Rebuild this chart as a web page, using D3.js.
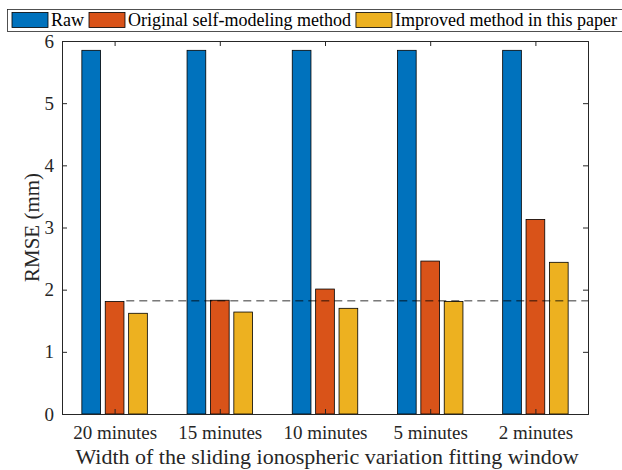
<!DOCTYPE html>
<html>
<head>
<meta charset="utf-8">
<script src="https://cdn.jsdelivr.net/npm/d3@7"></script>
<style>
  body { margin: 0; background: #fff; }
  svg { display: block; font-family: "Liberation Serif", "Times New Roman", serif; }
</style>
</head>
<body>
<div id="chart"></div>
<script>
// chart data
const categories = ["20 minutes", "15 minutes", "10 minutes", "5 minutes", "2 minutes"];
const seriesNames = ["Raw", "Original self-modeling method", "Improved method in this paper"];
const rawValues = [5.85, 5.85, 5.85, 5.85, 5.85];
const originalValues = [1.81, 1.83, 2.01, 2.46, 3.13];
const improvedValues = [1.62, 1.64, 1.70, 1.81, 2.44];
const referenceLevel = 1.82;
const yTicks = [0, 1, 2, 3, 4, 5, 6];

const colors = ["#0072BD", "#D95319", "#EDB120"];
const series = [rawValues, originalValues, improvedValues];

const width = 622, height = 470;
const margin = {top: 41, right: 34, bottom: 56, left: 62};
const plotW = width - margin.left - margin.right;
const plotH = height - margin.top - margin.bottom;
const serif = "Liberation Serif, Times New Roman, serif";

const svg = d3.select("#chart").append("svg")
    .attr("width", width)
    .attr("height", height);

const g = svg.append("g")
    .attr("transform", "translate(" + margin.left + "," + margin.top + ")");

// x is a linear scale like matlab's bar positions 1..n
const x = d3.scaleLinear()
    .domain([0.5, categories.length + 0.5])
    .range([0, plotW]);
const y = d3.scaleLinear()
    .domain([0, 6])
    .range([plotH, 0]);

const groupWidth = 0.667;
const step = groupWidth / series.length;
const barW = step * 0.8;

series.forEach(function (vals, s) {
    g.selectAll("rect.s" + s)
        .data(vals)
        .enter().append("rect")
        .attr("class", "s" + s)
        .attr("x", function (d, i) { return x(i + 1 + (s - 1) * step - barW / 2); })
        .attr("width", x(barW) - x(0))
        .attr("y", function (d) { return y(d); })
        .attr("height", function (d) { return y(0) - y(d); })
        .attr("fill", colors[s])
        .attr("stroke", "#000")
        .attr("stroke-width", 0.8);
});

// dashed reference line from the first orange bar
g.append("line")
    .attr("x1", x(1 + step * 0.5))
    .attr("x2", plotW)
    .attr("y1", y(referenceLevel))
    .attr("y2", y(referenceLevel))
    .attr("stroke", "#000")
    .attr("stroke-width", 0.8)
    .attr("stroke-dasharray", "8,5");

// axes, ticks inward on all four sides
const tickLen = 5;
const axisColor = "#262626";
const xTickVals = d3.range(1, categories.length + 1);

const xAxis = g.append("g")
    .attr("transform", "translate(0," + plotH + ")")
    .call(d3.axisBottom(x).tickValues(xTickVals)
        .tickSize(-tickLen).tickPadding(12)
        .tickFormat(function (d) { return categories[d - 1]; }));
const xTop = g.append("g")
    .call(d3.axisTop(x).tickValues(xTickVals).tickSize(-tickLen).tickFormat(""));
const yAxis = g.append("g")
    .call(d3.axisLeft(y).tickValues(yTicks).tickSize(-tickLen).tickPadding(8)
        .tickFormat(d3.format("d")));
const yRight = g.append("g")
    .attr("transform", "translate(" + plotW + ",0)")
    .call(d3.axisRight(y).tickValues(yTicks).tickSize(-tickLen).tickFormat(""));

[xAxis, xTop, yAxis, yRight].forEach(function (a) {
    a.attr("font-family", serif).attr("font-size", 19);
    a.select(".domain").attr("stroke", axisColor);
    a.selectAll(".tick line").attr("stroke", axisColor);
    a.selectAll("text").attr("fill", axisColor);
});

svg.append("text")
    .attr("x", margin.left + plotW / 2 + 2)
    .attr("y", 464)
    .attr("text-anchor", "middle")
    .attr("fill", axisColor)
    .style("font-size", "22px")
    .text("Width of the sliding ionospheric variation fitting window");

svg.append("text")
    .attr("transform", "translate(39," + (margin.top + plotH / 2) + ") rotate(-90)")
    .attr("text-anchor", "middle")
    .attr("fill", axisColor)
    .style("font-size", "21px")
    .text("RMSE (mm)");

// legend along the top
const legend = svg.append("g").attr("class", "legend-group");
legend.append("rect")
    .attr("x", 7.5).attr("y", 9.5)
    .attr("width", 640).attr("height", 22)
    .attr("fill", "#fff")
    .attr("stroke", axisColor)
    .attr("stroke-width", 0.8);

let lx = 12;
seriesNames.forEach(function (name, s) {
    legend.append("rect")
        .attr("x", lx).attr("y", 12.5)
        .attr("width", 36).attr("height", 15)
        .attr("fill", colors[s])
        .attr("stroke", "#000")
        .attr("stroke-width", 0.8);
    const t = legend.append("text")
        .attr("x", lx + 39)
        .attr("y", 25.5)
        .attr("fill", "#000")
        .style("font-size", "18px")
        .text(name);
    lx += 39 + t.node().getComputedTextLength() + 5;
});
</script>
</body>
</html>
